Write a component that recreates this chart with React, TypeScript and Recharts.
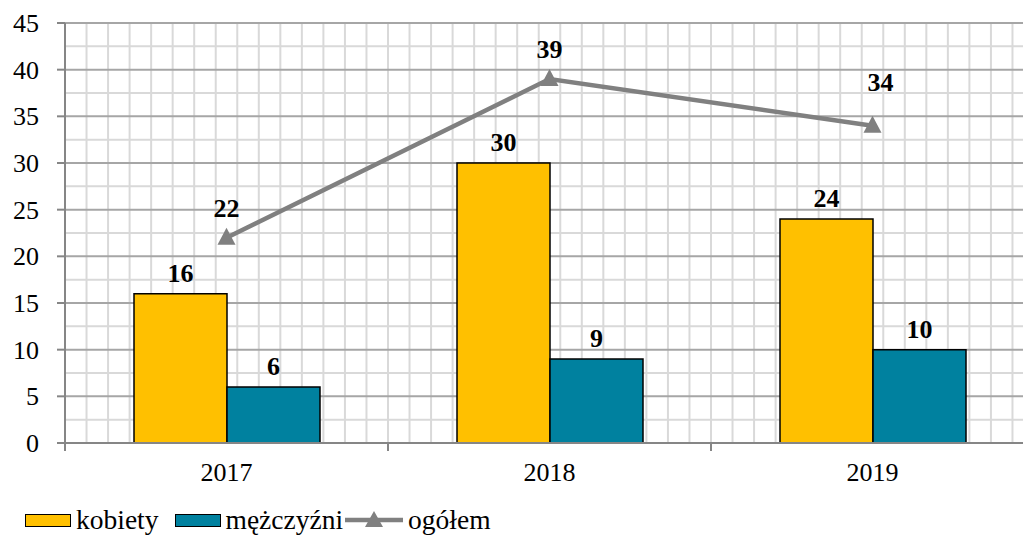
import { ComposedChart, Bar, Line, XAxis, YAxis, CartesianGrid, LabelList } from "recharts";

const categories = ["2017", "2018", "2019"];
const kobiety = [16, 30, 24];
const mezczyzni = [6, 9, 10];
const ogolem = [22, 39, 34];
const yTicks = [0, 5, 10, 15, 20, 25, 30, 35, 40, 45];
const yMinor = [2.5, 7.5, 12.5, 17.5, 22.5, 27.5, 32.5, 37.5, 42.5];

const data = categories.map((year, i) => ({
  year,
  kobiety: kobiety[i],
  mezczyzni: mezczyzni[i],
  ogolem: ogolem[i],
}));

const FONT = "Liberation Serif, Times New Roman, serif";
const CHART_W = 1045;
const CHART_H = 535;
const MARGIN = { top: 23, right: 11, left: 8, bottom: 42 };
const Y_AXIS_W = 57;
const PLOT_LEFT = MARGIN.left + Y_AXIS_W;
const PLOT_W = CHART_W - PLOT_LEFT - MARGIN.right;
const AXIS_GRAY = "#868686";

// light vertical lines, 15 per category like the Excel sheet
const minorVertical = Array.from({ length: 46 }, (_, i) => PLOT_LEFT + (i * PLOT_W) / 45);

const XTick = (props: any) => {
  const { x, y, payload, index } = props;
  const band = PLOT_W / categories.length;
  const left = x - band / 2;
  return (
    <g>
      <line x1={left} x2={left} y1={y} y2={y + 8} stroke={AXIS_GRAY} strokeWidth={2} />
      {index === categories.length - 1 && (
        <line x1={x + band / 2} x2={x + band / 2} y1={y} y2={y + 8} stroke={AXIS_GRAY} strokeWidth={2} />
      )}
      <text x={x} y={y + 38} textAnchor="middle" fontSize={26} style={{ fontFamily: FONT }} fill="#000">
        {payload.value}
      </text>
    </g>
  );
};

const YTick = (props: any) => {
  const { x, y, payload } = props;
  return (
    <text x={x} y={y + 9} textAnchor="end" fontSize={26} style={{ fontFamily: FONT }} fill="#000">
      {payload.value}
    </text>
  );
};

const Triangle = (props: any) => {
  const { cx, cy, index } = props;
  if (cx == null || cy == null) return <g key={index} />;
  return (
    <path
      key={index}
      d={`M${cx},${cy - 10} L${cx + 9},${cy + 7} L${cx - 9},${cy + 7} Z`}
      fill="#808080"
    />
  );
};

const lineLabelShift = [0, 0, 14];

const LineLabel = (props: any) => {
  const { x, y, value, index } = props;
  return (
    <text
      x={x + (index === 2 ? 8 : 0)}
      y={y - 21 - lineLabelShift[index]}
      textAnchor="middle"
      fontSize={26}
      fontWeight="bold"
      style={{ fontFamily: FONT }}
      fill="#000"
    >
      {value}
    </text>
  );
};

const BarLabel = (props: any) => {
  const { x, y, width, value } = props;
  return (
    <text
      x={x + width / 2}
      y={y - 12}
      textAnchor="middle"
      fontSize={26}
      fontWeight="bold"
      style={{ fontFamily: FONT }}
      fill="#000"
    >
      {value}
    </text>
  );
};

const legendText = { fontSize: 27.5, fontFamily: FONT, color: "#000", lineHeight: "28px" };
const swatch = (color: string) => ({
  width: 44,
  height: 11,
  background: color,
  border: "1.5px solid #000",
  display: "inline-block",
});

export default function App() {
  return (
    <div
      style={{
        position: "absolute",
        left: 0,
        top: 0,
        width: 1023,
        height: 535,
        overflow: "hidden",
        background: "#fff",
        fontFamily: FONT,
      }}
    >
      <ComposedChart width={CHART_W} height={CHART_H} data={data} margin={MARGIN} barGap={0}>
        <CartesianGrid
          horizontalValues={yMinor}
          verticalPoints={minorVertical}
          stroke="#d9d9d9"
          strokeWidth={2}
          fill="none"
        />
        <CartesianGrid horizontalValues={yTicks} vertical={false} stroke="#a6a6a6" strokeWidth={2} fill="none" />
        <XAxis
          dataKey="year"
          height={50}
          axisLine={{ stroke: AXIS_GRAY, strokeWidth: 2 }}
          tickLine={false}
          tickSize={0}
          tickMargin={0}
          tick={<XTick />}
          interval={0}
        />
        <YAxis
          width={Y_AXIS_W}
          domain={[0, 45]}
          ticks={yTicks}
          interval={0}
          axisLine={{ stroke: AXIS_GRAY, strokeWidth: 2 }}
          tickLine={{ stroke: AXIS_GRAY, strokeWidth: 2 }}
          tickSize={8}
          tickMargin={18}
          tick={<YTick />}
        />
        <Bar dataKey="kobiety" fill="#FFC000" stroke="#000" strokeWidth={1.5} barSize={93} isAnimationActive={false}>
          <LabelList dataKey="kobiety" content={<BarLabel />} />
        </Bar>
        <Bar dataKey="mezczyzni" fill="#00819F" stroke="#000" strokeWidth={1.5} barSize={93} isAnimationActive={false}>
          <LabelList dataKey="mezczyzni" content={<BarLabel />} />
        </Bar>
        <Line
          dataKey="ogolem"
          stroke="#808080"
          strokeWidth={4.5}
          dot={<Triangle />}
          activeDot={false}
          isAnimationActive={false}
        >
          <LabelList dataKey="ogolem" content={<LineLabel />} />
        </Line>
      </ComposedChart>

      <div style={{ position: "absolute", left: 25, top: 506, display: "flex", alignItems: "center", whiteSpace: "nowrap" }}>
        <span style={swatch("#FFC000")} />
        <span style={{ ...legendText, marginLeft: 5 }}>kobiety</span>
        <span style={{ ...swatch("#00819F"), marginLeft: 16 }} />
        <span style={{ ...legendText, marginLeft: 5 }}>mężczyźni</span>
        <svg width={58} height={20} style={{ marginLeft: 2 }}>
          <line x1={0} x2={58} y1={10} y2={10} stroke="#808080" strokeWidth={4.5} />
          <path d="M29,1 L38,17 L20,17 Z" fill="#808080" />
        </svg>
        <span style={{ ...legendText, marginLeft: 5 }}>ogółem</span>
      </div>
    </div>
  );
}
